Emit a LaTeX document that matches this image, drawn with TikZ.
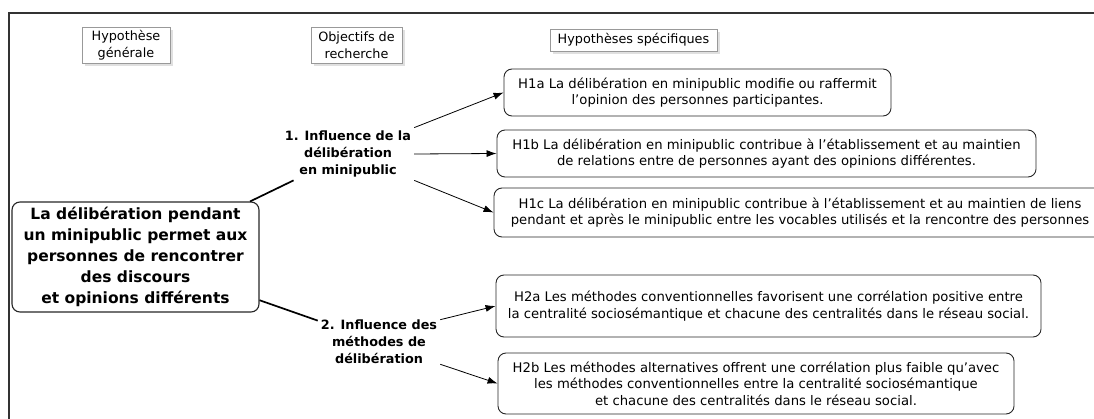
\documentclass[tikz,border=0pt]{standalone}
\usepackage{fontspec}
\setmainfont{DejaVu Sans}
\usetikzlibrary{arrows.meta, shapes, shadows}

\begin{document}
\begin{tikzpicture}[x=1pt, y=-1pt, >={Latex[length=10pt,width=7pt]},
	every hyp/.style={draw=black!85, line width=0.9pt, rounded corners=8pt, align=center, inner sep=0pt, font=\fontsize{13.2}{16.5}\selectfont},
	every head/.style={draw=black!40, line width=0.7pt, fill=white, align=center, inner sep=0pt, font=\fontsize{12.8}{17}\selectfont, drop shadow={shadow xshift=3pt, shadow yshift=-3pt, fill=black!12, opacity=1}},
	every goal/.style={align=center, inner sep=3pt, font=\bfseries\fontsize{12.8}{17}\selectfont},
	link/.style={line width=1.7pt},
	arc/.style={->, line width=0.8pt}]
	\useasboundingbox (0,0) rectangle (1094,419);
	\draw[line width=1.2pt, black!80] (9,425) -- (9,13) -- (1100,13);

	% column headers
	\node[every head, minimum width=88pt, minimum height=36pt] (hg) at (126,45) {Hypothèse\\générale};
	\node[every head, minimum width=91pt, minimum height=36pt] (or) at (356.5,45) {Objectifs de\\recherche};
	\node[every head, minimum width=167pt, minimum height=22pt] (hs) at (633.5,40) {Hypothèses spécifiques};

	% general hypothesis
	\node[every hyp, line width=1.1pt, minimum width=247pt, minimum height=110pt, font=\bfseries\fontsize{15.5}{21}\selectfont] (main) at (135.5,257) {La délibération pendant\\un minipublic permet aux\\personnes de rencontrer\\des discours\\et opinions différents};

	% research goals
	\node[every goal] (obj1) at (348,154) {1. Influence de la\\délibération\\en minipublic};
	\node[every goal] (obj2) at (379,342) {2. Influence des\\méthodes de\\délibération};

	% specific hypotheses
	\node[every hyp, minimum width=387pt, minimum height=47pt] (h1a) at (697.5,92.5) {H1a La délibération en minipublic modifie ou raffermit\\l’opinion des personnes participantes.};
	\node[every hyp, minimum width=539pt, minimum height=47pt] (h1b) at (766.5,153.5) {H1b La délibération en minipublic contribue à l’établissement et au maintien\\de relations entre de personnes ayant des opinions différentes.};
	\node[every hyp, minimum width=612pt, minimum height=49pt] (h1c) at (800,212.5) {H1c La délibération en minipublic contribue à l’établissement et au maintien de liens\\pendant et après le minipublic entre les vocables utilisés et la rencontre des personnes};
	\node[every hyp, minimum width=545pt, minimum height=62pt] (h2a) at (768.5,306) {H2a Les méthodes conventionnelles favorisent une corrélation positive entre\\la centralité sociosémantique et chacune des centralités dans le réseau social.};
	\node[every hyp, minimum width=516pt, minimum height=61pt] (h2b) at (756,383.5) {H2b Les méthodes alternatives offrent une corrélation plus faible qu’avec\\les méthodes conventionnelles entre la centralité sociosémantique\\et chacune des centralités dans le réseau social.};

	\draw[link] (main) -- (obj1);
	\draw[link] (main) -- (obj2);

	\draw[arc] (obj1.north east) -- (h1a.west);
	\draw[arc] (obj1.east) -- (h1b.west);
	\draw[arc] (obj1.south east) -- (h1c.west);
	\draw[arc] (obj2.20) -- (h2a.west);
	\draw[arc] (obj2.-20) -- (h2b.west);
\end{tikzpicture}
\end{document}
